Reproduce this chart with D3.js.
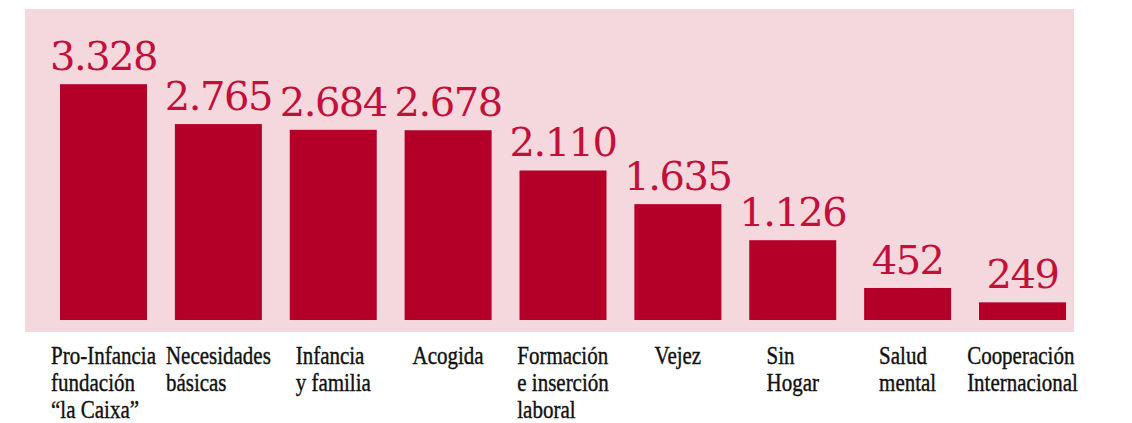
<!DOCTYPE html>
<html>
<head>
<meta charset="utf-8">
<script src="https://cdn.jsdelivr.net/npm/d3@7"></script>
<style>
  html, body { margin: 0; padding: 0; background: #fff; }
  svg { display: block; }
</style>
</head>
<body>
<svg id="chart"></svg>
<script>
const width = 1132;
const height = 423;

// data
const categories = ['pro-infancia', 'necesidades', 'infancia', 'acogida', 'formacion',
                    'vejez', 'sin-hogar', 'salud', 'cooperacion'];
const values = [3328, 2765, 2684, 2678, 2110, 1635, 1126, 452, 249];
const valueLabels = ['3.328', '2.765', '2.684', '2.678', '2.110', '1.635', '1.126', '452', '249'];
const categoryLabels = [
    ['Pro-Infancia', 'fundación', '“la Caixa”'],
    ['Necesidades', 'básicas'],
    ['Infancia', 'y familia'],
    ['Acogida'],
    ['Formación', 'e inserción', 'laboral'],
    ['Vejez'],
    ['Sin', 'Hogar'],
    ['Salud', 'mental'],
    ['Cooperación', 'Internacional']
];

const barColor = '#b40029';
const labelColor = '#c2103b';
const panelColor = '#f4d8dd';

const svg = d3.select('#chart')
    .attr('width', width)
    .attr('height', height);

const baseline = 320;

const x = d3.scaleBand()
    .domain(categories)
    .range([60, 1066])
    .paddingInner(0.2427)
    .paddingOuter(0);

const y = d3.scaleLinear()
    .domain([0, 3500])
    .range([baseline, 72]);

// pink panel behind the bars
svg.append('rect')
    .attr('x', 25)
    .attr('y', 9)
    .attr('width', 1049)
    .attr('height', 323)
    .attr('fill', panelColor);

svg.selectAll('rect.bar')
    .data(values)
    .enter()
    .append('rect')
    .attr('class', 'bar')
    .attr('x', (d, i) => x(categories[i]))
    .attr('y', d => y(d))
    .attr('width', x.bandwidth())
    .attr('height', d => baseline - y(d))
    .attr('fill', barColor);

svg.selectAll('text.value')
    .data(values)
    .enter()
    .append('text')
    .attr('class', 'value')
    .attr('x', (d, i) => x(categories[i]) + x.bandwidth() / 2)
    .attr('y', d => y(d) - 14)
    .attr('text-anchor', 'middle')
    .attr('font-family', '"DejaVu Serif", serif')
    .attr('font-size', 40)
    .attr('letter-spacing', -1.5)
    .attr('fill', labelColor)
    .text((d, i) => valueLabels[i]);

// category names: condensed serif, left aligned block centred under each bar
const squeeze = 0.84;
const groups = svg.selectAll('g.cat')
    .data(categoryLabels)
    .enter()
    .append('g')
    .attr('class', 'cat')
    .attr('transform', (d, i) =>
        `translate(${x(categories[i]) + x.bandwidth() / 2}, 364) scale(${squeeze}, 1)`);

groups.each(function(lines) {
    const g = d3.select(this);
    const texts = g.selectAll('text')
        .data(lines)
        .enter()
        .append('text')
        .attr('y', (d, j) => j * 27)
        .attr('font-family', '"Liberation Serif", "Times New Roman", serif')
        .attr('font-size', 25)
        .attr('fill', '#111')
        .attr('stroke', '#111')
        .attr('stroke-width', 0.4)
        .text(d => d);
    let maxW = 0;
    texts.each(function() { maxW = Math.max(maxW, this.getComputedTextLength()); });
    texts.attr('x', -maxW / 2);
});
</script>
</body>
</html>
